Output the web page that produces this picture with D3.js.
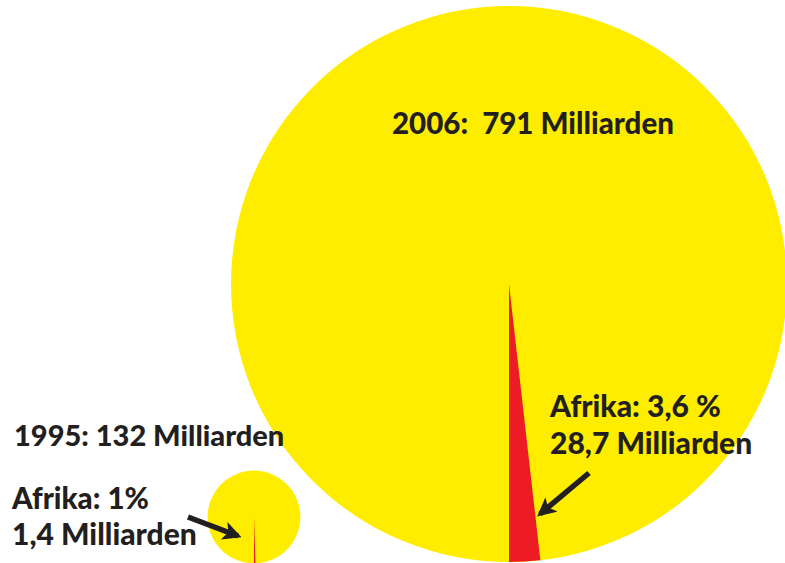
<!DOCTYPE html>
<html>
<head>
<meta charset="utf-8">
<script src="https://cdn.jsdelivr.net/npm/d3@7"></script>
<style>
  html, body { margin: 0; padding: 0; background: #fff; }
  svg { display: block; }
  text { font-family: Lato, "Open Sans", sans-serif; font-weight: 900; fill: #231f20; white-space: pre; }
</style>
</head>
<body>
<div id="chart"></div>
<script>
const width = 785;
const height = 563;

// data
const years = ["2006", "1995"];
const totals = [791, 132];            // Milliarden
const africaShare = [3.6, 1];         // percent
const africaValue = ["28,7", "1,4"];  // Milliarden
const shareLabels = ["3,6 %", "1%"];

const yellow = "#ffed00";
const red = "#ed1c24";

// layout
const centers = [[509, 284], [254, 517]];
const maxR = 278;

let svg = d3.select("#chart").append("svg")
	.attr("width", width)
	.attr("height", height);

// radius proportional to the value (as in the original)
let rScale = d3.scaleLinear()
	.domain([0, d3.max(totals)])
	.range([0, maxR]);

// share mapped onto half a turn, slice hangs down from the centre
let angle = d3.scaleLinear()
	.domain([0, 100])
	.range([0, Math.PI]);

let arc = d3.arc().innerRadius(0);

let groups = svg.selectAll("g.pie")
	.data(years)
	.enter().append("g")
	.attr("class", "pie")
	.attr("transform", function(d, i) { return "translate(" + centers[i][0] + "," + centers[i][1] + ")"; });

groups.append("circle")
	.attr("r", function(d, i) { return rScale(totals[i]); })
	.attr("fill", yellow);

groups.append("path")
	.attr("fill", red)
	.attr("d", function(d, i) {
		return arc({
			outerRadius: rScale(totals[i]),
			startAngle: Math.PI - angle(africaShare[i]),
			endAngle: Math.PI
		});
	});

// arrows
let defs = svg.append("defs");
defs.append("marker")
	.attr("id", "head")
	.attr("viewBox", "0 0 10 10")
	.attr("refX", 8)
	.attr("refY", 5)
	.attr("markerWidth", 3.4)
	.attr("markerHeight", 3.4)
	.attr("markerUnits", "strokeWidth")
	.attr("orient", "auto")
	.append("path")
	.attr("d", "M0,0 L10,5 L0,10 L2.5,5 Z")
	.attr("fill", "#231f20");

const arrows = [[[589, 473], [540, 514]], [[188, 517], [238, 536]]];
svg.selectAll("line.arrow")
	.data(arrows)
	.enter().append("line")
	.attr("class", "arrow")
	.attr("x1", function(d) { return d[0][0]; })
	.attr("y1", function(d) { return d[0][1]; })
	.attr("x2", function(d) { return d[1][0]; })
	.attr("y2", function(d) { return d[1][1]; })
	.attr("stroke", "#231f20")
	.attr("stroke-width", 5.5)
	.attr("marker-end", "url(#head)");

// labels
svg.append("text")
	.attr("x", 392).attr("y", 134)
	.style("font-size", "29.5px")
	.text(years[0] + ":  " + totals[0] + " Milliarden");

svg.append("text")
	.attr("x", 550).attr("y", 417)
	.style("font-size", "30px")
	.text("Afrika: " + shareLabels[0]);
svg.append("text")
	.attr("x", 550).attr("y", 454)
	.style("font-size", "30px")
	.text(africaValue[0] + " Milliarden");

svg.append("text")
	.attr("x", 14).attr("y", 446)
	.style("font-size", "29px")
	.text(years[1] + ": " + totals[1] + " Milliarden");

svg.append("text")
	.attr("x", 12).attr("y", 509)
	.style("font-size", "29.5px")
	.text("Afrika: " + shareLabels[1]);
svg.append("text")
	.attr("x", 12).attr("y", 545)
	.style("font-size", "30px")
	.text(africaValue[1] + " Milliarden");
</script>
</body>
</html>
